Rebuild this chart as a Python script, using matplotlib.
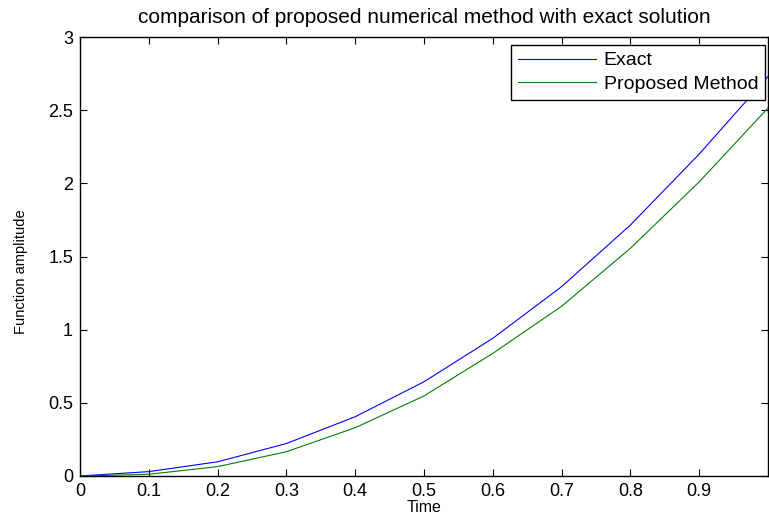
import matplotlib
matplotlib.use("Agg")
import matplotlib.pyplot as plt

plt.rcParams['font.family'] = ['Liberation Sans', 'DejaVu Sans']

t = [0.0, 0.1, 0.2, 0.3, 0.4, 0.5, 0.6, 0.7, 0.8, 0.9, 1.0]
exact = [0.0, 0.03, 0.097, 0.222, 0.405, 0.644, 0.941, 1.294, 1.715, 2.20, 2.73]
proposed = [0.0, 0.012, 0.064, 0.166, 0.33, 0.547, 0.838, 1.16, 1.556, 2.01, 2.515]

xticks = [0, 0.1, 0.2, 0.3, 0.4, 0.5, 0.6, 0.7, 0.8, 0.9]
xticklabels = ['0', '0.1', '0.2', '0.3', '0.4', '0.5', '0.6', '0.7', '0.8', '0.9']
yticks = [0, 0.5, 1, 1.5, 2, 2.5, 3]
yticklabels = ['0', '0.5', '1', '1.5', '2', '2.5', '3']

fig = plt.figure(figsize=(7.69, 5.19), dpi=100)
ax = fig.add_axes([80/769, 43/519, 688/769, 439/519])

ax.plot(t, exact, color='#0000ff', lw=0.8, label='Exact')
ax.plot(t, proposed, color='#008000', lw=0.8, label='Proposed Method')

ax.set_xlim(0, 1)
ax.set_ylim(0, 3)
ax.set_xticks(xticks)
ax.set_xticklabels(xticklabels)
ax.set_yticks(yticks)
ax.set_yticklabels(yticklabels)
ax.tick_params(direction='in', length=5, width=0.8, top=True, right=True,
               labelsize=13, pad=5)
for s in ax.spines.values():
    s.set_linewidth(1.0)

ax.set_title('comparison of proposed numerical method with exact solution',
             fontsize=15, pad=10)
ax.set_xlabel('Time', fontsize=11.5, labelpad=0)
ax.set_ylabel('Function amplitude', fontsize=10.5)
ax.yaxis.set_label_coords(-0.075, 0.465)

leg = ax.legend(loc='upper right', bbox_to_anchor=(0.9956, 0.982),
                borderaxespad=0, fancybox=False, framealpha=1,
                edgecolor='black', fontsize=14, handlelength=4.0,
                borderpad=0.35, labelspacing=0.3, handletextpad=0.4)
leg.get_frame().set_linewidth(1.0)

fig.savefig('out.png', dpi=100)
